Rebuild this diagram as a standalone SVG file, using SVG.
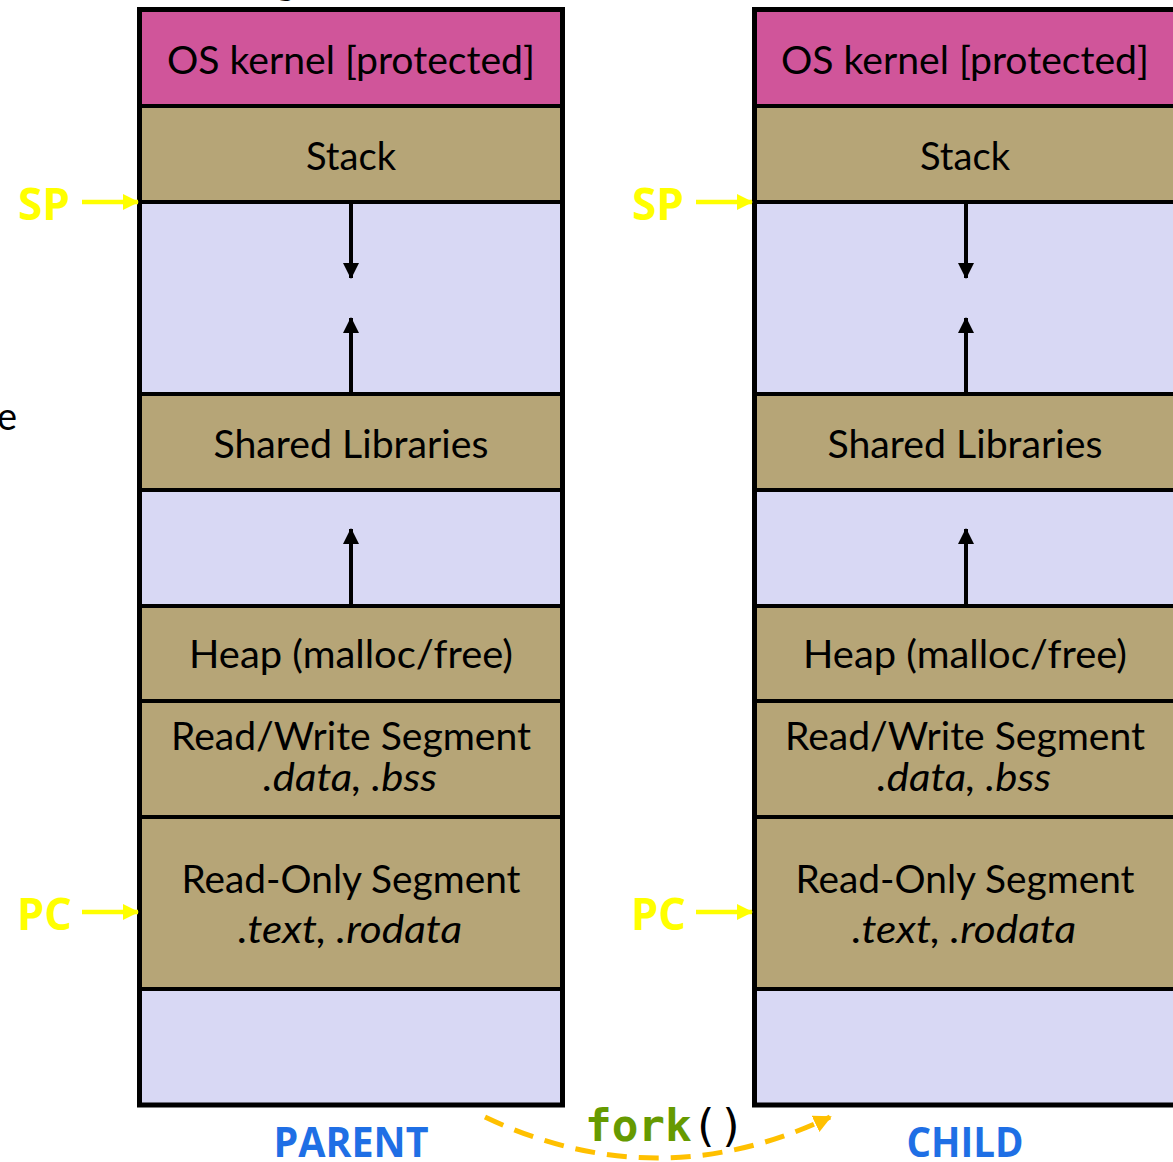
<svg xmlns="http://www.w3.org/2000/svg" width="1173" height="1162" viewBox="0 0 1173 1162">
  <defs>
    <style>
      .kern { fill: #D0559A; stroke: #000; stroke-width: 4; }
      .seg  { fill: #B6A577; stroke: #000; stroke-width: 4; }
      .free { fill: #D8D8F4; stroke: #000; stroke-width: 4; }
      .frame { fill: none; stroke: #000; stroke-width: 5; }
      .lbl { font-family: Lato, "Open Sans", sans-serif; font-size: 38px; fill: #000; text-anchor: middle; }
      .it { font-style: italic; }
      .reg { font-family: "Open Sans", Lato, sans-serif; font-size: 45px; font-weight: bold; fill: #FFFF00; }
      .who { font-family: "Open Sans", Lato, sans-serif; font-size: 41px; font-weight: bold; fill: #1F6FE5; text-anchor: middle; }
      .grow { stroke: #000; stroke-width: 4; fill: none; marker-end: url(#headBlack); }
      .ptr { stroke: #FFFF00; stroke-width: 4.5; fill: none; marker-end: url(#headYellow); }
      .forkpath { stroke: #FFC000; stroke-width: 5; fill: none; stroke-dasharray: 20 12; marker-end: url(#headOrange); }
    </style>
    <marker id="headBlack" markerUnits="userSpaceOnUse" markerWidth="18" markerHeight="18" refX="15" refY="8" orient="auto">
      <path d="M0,0 L16,8 L0,16 z" fill="#000"/>
    </marker>
    <marker id="headYellow" markerUnits="userSpaceOnUse" markerWidth="18" markerHeight="18" refX="15" refY="8" orient="auto">
      <path d="M0,0 L16,8 L0,16 z" fill="#FFFF00"/>
    </marker>
    <marker id="headOrange" markerUnits="userSpaceOnUse" markerWidth="20" markerHeight="20" refX="16" refY="9" orient="auto">
      <path d="M0,0 L18,9 L0,18 z" fill="#FFC000"/>
    </marker>
  </defs>

  <rect width="1173" height="1162" fill="#FFFFFF"/>

  <!-- fragments of surrounding text at the canvas edges -->
  <text class="lbl" x="286" y="-6" style="text-anchor:middle">g</text>
  <text class="lbl" x="-3" y="430" style="text-anchor:start">e</text>

  <!-- parent address space -->
  <g id="parent">
    <g id="parent-kernel">
      <rect class="kern" x="139.5" y="9.5" width="423" height="96.5"/>
      <text class="lbl" x="351" y="74" textLength="368" lengthAdjust="spacingAndGlyphs">OS kernel [protected]</text>
    </g>
    <g id="parent-stack">
      <rect class="seg" x="139.5" y="106" width="423" height="96"/>
      <text class="lbl" x="351" y="170" textLength="90" lengthAdjust="spacingAndGlyphs">Stack</text>
    </g>
    <g id="parent-gap1">
      <rect class="free" x="139.5" y="202" width="423" height="192"/>
    </g>
    <g id="parent-shlib">
      <rect class="seg" x="139.5" y="394" width="423" height="96"/>
      <text class="lbl" x="351" y="458" textLength="275" lengthAdjust="spacingAndGlyphs">Shared Libraries</text>
    </g>
    <g id="parent-gap2">
      <rect class="free" x="139.5" y="490" width="423" height="116"/>
    </g>
    <g id="parent-heap">
      <rect class="seg" x="139.5" y="606" width="423" height="95"/>
      <text class="lbl" x="351" y="668" textLength="324" lengthAdjust="spacingAndGlyphs">Heap (malloc/free)</text>
    </g>
    <g id="parent-rw">
      <rect class="seg" x="139.5" y="701" width="423" height="116"/>
      <text class="lbl" x="351" y="750" textLength="360" lengthAdjust="spacingAndGlyphs">Read/Write Segment</text>
      <text class="lbl it" x="350" y="791" textLength="174" lengthAdjust="spacingAndGlyphs">.data, .bss</text>
    </g>
    <g id="parent-ro">
      <rect class="seg" x="139.5" y="817" width="423" height="172"/>
      <text class="lbl" x="351" y="893" textLength="339" lengthAdjust="spacingAndGlyphs">Read-Only Segment</text>
      <text class="lbl it" x="350" y="943" textLength="224" lengthAdjust="spacingAndGlyphs">.text, .rodata</text>
    </g>
    <g id="parent-gap3">
      <rect class="free" x="139.5" y="989" width="423" height="116"/>
    </g>
    <rect class="frame" x="139.5" y="9.5" width="423" height="1095.5"/>
    <text class="who" x="351" y="1157" textLength="155" lengthAdjust="spacingAndGlyphs">PARENT</text>
    <text class="reg" x="18" y="220" textLength="52" lengthAdjust="spacingAndGlyphs">SP</text>
    <text class="reg" x="17" y="930" textLength="55" lengthAdjust="spacingAndGlyphs">PC</text>
  </g>

  <!-- child address space -->
  <g id="child">
    <g id="child-kernel">
      <rect class="kern" x="754.5" y="9.5" width="423" height="96.5"/>
      <text class="lbl" x="965" y="74" textLength="368" lengthAdjust="spacingAndGlyphs">OS kernel [protected]</text>
    </g>
    <g id="child-stack">
      <rect class="seg" x="754.5" y="106" width="423" height="96"/>
      <text class="lbl" x="965" y="170" textLength="90" lengthAdjust="spacingAndGlyphs">Stack</text>
    </g>
    <g id="child-gap1">
      <rect class="free" x="754.5" y="202" width="423" height="192"/>
    </g>
    <g id="child-shlib">
      <rect class="seg" x="754.5" y="394" width="423" height="96"/>
      <text class="lbl" x="965" y="458" textLength="275" lengthAdjust="spacingAndGlyphs">Shared Libraries</text>
    </g>
    <g id="child-gap2">
      <rect class="free" x="754.5" y="490" width="423" height="116"/>
    </g>
    <g id="child-heap">
      <rect class="seg" x="754.5" y="606" width="423" height="95"/>
      <text class="lbl" x="965" y="668" textLength="324" lengthAdjust="spacingAndGlyphs">Heap (malloc/free)</text>
    </g>
    <g id="child-rw">
      <rect class="seg" x="754.5" y="701" width="423" height="116"/>
      <text class="lbl" x="965" y="750" textLength="360" lengthAdjust="spacingAndGlyphs">Read/Write Segment</text>
      <text class="lbl it" x="964" y="791" textLength="174" lengthAdjust="spacingAndGlyphs">.data, .bss</text>
    </g>
    <g id="child-ro">
      <rect class="seg" x="754.5" y="817" width="423" height="172"/>
      <text class="lbl" x="965" y="893" textLength="339" lengthAdjust="spacingAndGlyphs">Read-Only Segment</text>
      <text class="lbl it" x="964" y="943" textLength="224" lengthAdjust="spacingAndGlyphs">.text, .rodata</text>
    </g>
    <g id="child-gap3">
      <rect class="free" x="754.5" y="989" width="423" height="116"/>
    </g>
    <rect class="frame" x="754.5" y="9.5" width="423" height="1095.5"/>
    <text class="who" x="965" y="1157" textLength="117" lengthAdjust="spacingAndGlyphs">CHILD</text>
    <text class="reg" x="632" y="220" textLength="52" lengthAdjust="spacingAndGlyphs">SP</text>
    <text class="reg" x="631" y="930" textLength="55" lengthAdjust="spacingAndGlyphs">PC</text>
  </g>

  <!-- fork label -->
  <g id="fork-label">
    <text x="585" y="1141" font-family="'DejaVu Sans Mono', 'Liberation Mono', monospace" font-size="44" textLength="160" lengthAdjust="spacingAndGlyphs"><tspan font-weight="bold" fill="#669A00">fork</tspan><tspan fill="#000">()</tspan></text>
  </g>

  <!-- connectors -->
  <g id="connectors">
    <!-- growth directions, parent -->
    <line class="grow" x1="351" y1="204" x2="351" y2="278"/>
    <line class="grow" x1="351" y1="392" x2="351" y2="318"/>
    <line class="grow" x1="351" y1="604" x2="351" y2="529"/>
    <!-- growth directions, child -->
    <line class="grow" x1="966" y1="204" x2="966" y2="278"/>
    <line class="grow" x1="966" y1="392" x2="966" y2="318"/>
    <line class="grow" x1="966" y1="604" x2="966" y2="529"/>
    <!-- register pointers -->
    <line class="ptr" x1="82" y1="202" x2="138" y2="202"/>
    <line class="ptr" x1="82" y1="912" x2="138" y2="912"/>
    <line class="ptr" x1="696" y1="202" x2="752" y2="202"/>
    <line class="ptr" x1="696" y1="912" x2="752" y2="912"/>
    <!-- fork: parent to child -->
    <path class="forkpath" d="M485,1117 Q657,1199 830,1117"/>
  </g>
</svg>
